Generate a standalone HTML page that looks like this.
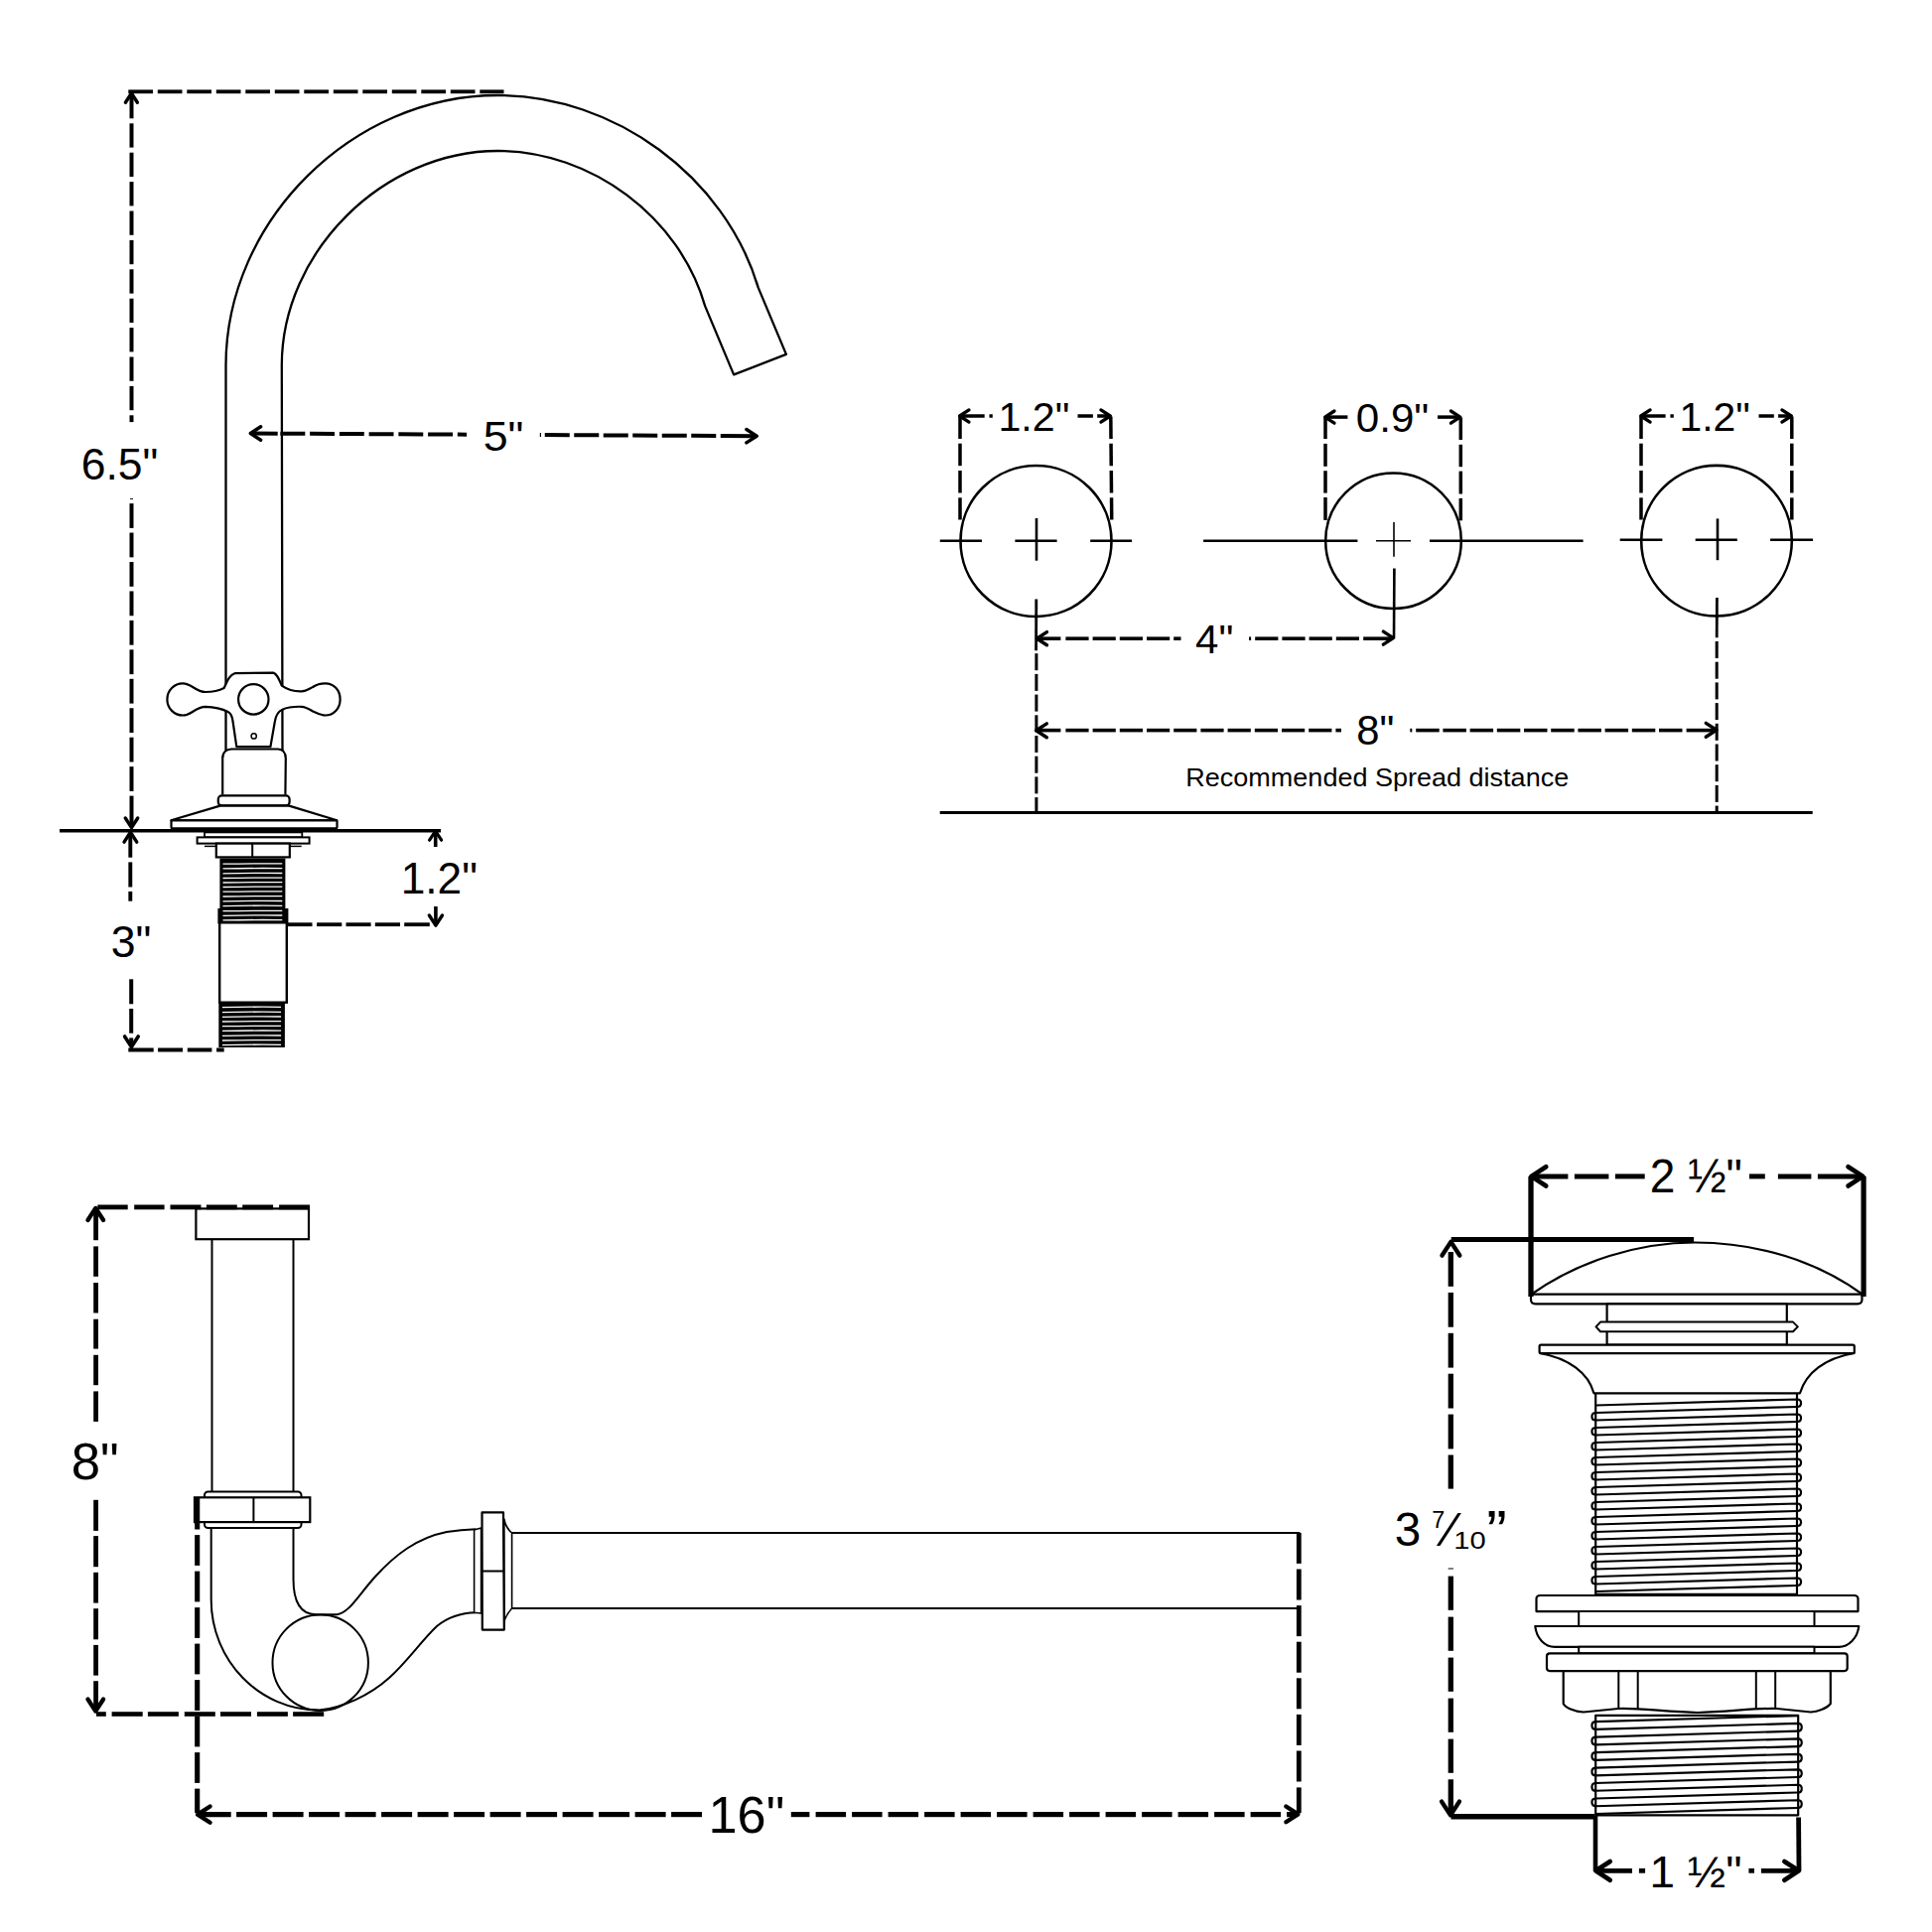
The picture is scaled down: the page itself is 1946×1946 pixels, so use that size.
<!DOCTYPE html>
<html><head><meta charset="utf-8"><style>
html,body{margin:0;padding:0;background:#fff;}
svg{display:block;}
text{font-family:"Liberation Sans",sans-serif;}
</style></head><body>
<svg xmlns="http://www.w3.org/2000/svg" width="1946" height="1946" viewBox="0 0 1946 1946">
<rect width="1946" height="1946" fill="#fff"/>
<g stroke="#000" fill="none" stroke-linejoin="round">
<path d="M227.5 757L227.5 368C227.5 222.48 354.91 96 501.5 96C618.5 96 730.2 177.5 763.7 289.6L791.9 356.9L739.1 377.4L710.2 308.4C684.4 218.3 595.2 152 501.5 152C386.12 152 283.8 253.52 283.8 368L284.5 757" stroke-width="2.3" fill="none" />
</g>
<path d="M225.7 693 C229 686 231 680 236.5 678.2 L275.3 677.6 C279 678.5 281 684 283.8 690.7 C290 695 297 696.6 303.7 696.4 C309 696 311 694 315.1 692 C320 688.5 324 688.3 327.6 688.3 C336 688.3 342.6 695 342.6 704.4 C342.6 713.8 336 720.5 327.6 720.5 C323 720.5 319 718 315.1 716.5 C311 714 308 712 303.7 711.8 C296 711.6 289 712.5 284.4 714.7 C279 717 277.5 722 276.8 727 L272.4 752.2 L238.3 752.2 L234.6 727 C233.8 721 232 718 229.7 717 C225 714.5 218 712 206.9 711.8 C201 712 197 715 193.5 717.2 C190 719.5 187 720.5 184.2 720.5 C175.5 720.5 168.4 713.5 168.4 704.4 C168.4 695.3 175.5 688.3 184.2 688.3 C188 688.3 191 690 194.5 692.2 C198 694.5 202 697 206.9 697 C214 697 221 695.5 225.7 693 Z" stroke-width="2.2" fill="#fff" stroke="#000" stroke-linejoin="round"/>
<g stroke="#000" fill="none">
<circle cx="255.3" cy="704.4" r="15.2" stroke-width="2.2" fill="none"/>
<circle cx="255.7" cy="741.4" r="2.6" stroke-width="1.5" fill="none"/>
</g>
<path d="M224.2 800.6 L224.2 764 C224.2 758 228 754.8 233 754.5 L280 754.5 C285 754.8 287.8 758 287.8 764 L287.4 800.6" stroke-width="2.2" fill="#fff" stroke="#000"/>
<line x1="238" y1="753.6" x2="272.5" y2="753.6" stroke-width="3.2" stroke-linecap="butt"/>
<g stroke="#000" fill="#fff">
<rect x="219.8" y="801.4" width="71.8" height="10" rx="3.5" stroke-width="2.2" fill="#fff"/>
</g>
<path d="M221.7 811.6 L291.2 811.6 L339.3 826.3 L172.3 826.3 Z" stroke-width="2.2" fill="#fff" stroke="#000" stroke-linejoin="round"/>
<g stroke="#000" fill="#fff">
<rect x="172.5" y="826.3" width="167" height="8" rx="1" stroke-width="2.2" fill="#fff"/>
</g>
<line x1="184" y1="824.6" x2="326.5" y2="824.6" stroke-width="1.5" stroke-linecap="butt"/>
<g stroke="#000">
<line x1="60" y1="836.8" x2="444" y2="836.8" stroke-width="3.6" stroke-linecap="butt"/>
</g>
<g stroke="#000" fill="#fff">
<rect x="206" y="838.4" width="98.3" height="4.9" stroke-width="1.8" fill="#fff"/>
<rect x="198.6" y="843.4" width="113" height="6.2" stroke-width="2" fill="#fff"/>
<rect x="217.8" y="849.6" width="74" height="13.8" stroke-width="2.2" fill="#fff"/>
</g>
<g stroke="#000">
<line x1="254.2" y1="849.6" x2="254.2" y2="863.4" stroke-width="2" stroke-linecap="butt"/>
<line x1="206" y1="852.4" x2="217.8" y2="852.4" stroke-width="1.5" stroke-linecap="butt"/>
<line x1="291.8" y1="852.4" x2="303.7" y2="852.4" stroke-width="1.5" stroke-linecap="butt"/>
</g>
<g stroke="#000" fill="#fff">
<rect x="221.2" y="928.7" width="67.6" height="81" stroke-width="2.4" fill="#fff"/>
</g>
<rect x="221.4" y="864.5" width="66" height="65" fill="#000"/>
<rect x="219.4" y="915" width="71" height="15.5" fill="#000"/>
<rect x="220.3" y="1009" width="66.6" height="46" fill="#000"/>
<g stroke="#fff" fill="none">
<path d="M224.5 870.2 Q255 869.6 284.3 869.9" stroke-width="1.3" fill="none" />
<path d="M224.5 874.9 Q255 874.3 284.3 874.6" stroke-width="1.3" fill="none" />
<path d="M224.5 879.8 Q255 879.2 284.3 879.5" stroke-width="1.3" fill="none" />
<path d="M224.5 884.5 Q255 883.9 284.3 884.2" stroke-width="1.3" fill="none" />
<path d="M224.5 889 Q255 888.4 284.3 888.7" stroke-width="1.3" fill="none" />
<path d="M224.5 893.5 Q255 892.9 284.3 893.2" stroke-width="1.3" fill="none" />
<path d="M224.5 898.2 Q255 897.6 284.3 897.9" stroke-width="1.3" fill="none" />
<path d="M224.5 903 Q255 902.4 284.3 902.7" stroke-width="1.3" fill="none" />
<path d="M224.5 907.8 Q255 907.2 284.3 907.5" stroke-width="1.3" fill="none" />
<path d="M224.5 912.6 Q255 912 284.3 912.3" stroke-width="1.3" fill="none" />
<path d="M224.5 917.7 Q255 917.1 284.3 917.4" stroke-width="1.3" fill="none" />
<path d="M224.5 922.3 Q255 921.7 284.3 922" stroke-width="1.3" fill="none" />
<path d="M224.5 926.9 Q255 926.3 284.3 926.6" stroke-width="1.3" fill="none" />
<path d="M223.9 1014.6 Q255 1014 283.1 1014.3" stroke-width="1.3" fill="none" />
<path d="M223.9 1019.6 Q255 1019 283.1 1019.3" stroke-width="1.3" fill="none" />
<path d="M223.9 1024.3 Q255 1023.7 283.1 1024" stroke-width="1.3" fill="none" />
<path d="M223.9 1029 Q255 1028.4 283.1 1028.7" stroke-width="1.3" fill="none" />
<path d="M223.9 1033.7 Q255 1033.1 283.1 1033.4" stroke-width="1.3" fill="none" />
<path d="M223.9 1038.4 Q255 1037.8 283.1 1038.1" stroke-width="1.3" fill="none" />
<path d="M223.9 1043.3 Q255 1042.7 283.1 1043" stroke-width="1.3" fill="none" />
<path d="M223.9 1048 Q255 1047.4 283.1 1047.7" stroke-width="1.3" fill="none" />
<path d="M223.9 1052.6 Q255 1052 283.1 1052.3" stroke-width="1.3" fill="none" />
</g>
<g stroke="#000" fill="none">
<line x1="129.3" y1="92.3" x2="154" y2="92.3" stroke-width="3.8" stroke-linecap="butt"/>
<line x1="158.8" y1="92.3" x2="183.5" y2="92.3" stroke-width="3.8" stroke-linecap="butt"/>
<line x1="188.3" y1="92.3" x2="213" y2="92.3" stroke-width="3.8" stroke-linecap="butt"/>
<line x1="217.8" y1="92.3" x2="242.5" y2="92.3" stroke-width="3.8" stroke-linecap="butt"/>
<line x1="247.3" y1="92.3" x2="272" y2="92.3" stroke-width="3.8" stroke-linecap="butt"/>
<line x1="276.8" y1="92.3" x2="301.5" y2="92.3" stroke-width="3.8" stroke-linecap="butt"/>
<line x1="306.3" y1="92.3" x2="331" y2="92.3" stroke-width="3.8" stroke-linecap="butt"/>
<line x1="335.8" y1="92.3" x2="360.5" y2="92.3" stroke-width="3.8" stroke-linecap="butt"/>
<line x1="365.3" y1="92.3" x2="390" y2="92.3" stroke-width="3.8" stroke-linecap="butt"/>
<line x1="394.8" y1="92.3" x2="419.5" y2="92.3" stroke-width="3.8" stroke-linecap="butt"/>
<line x1="424.3" y1="92.3" x2="449" y2="92.3" stroke-width="3.8" stroke-linecap="butt"/>
<line x1="453.8" y1="92.3" x2="478.5" y2="92.3" stroke-width="3.8" stroke-linecap="butt"/>
<line x1="483.3" y1="92.3" x2="507.5" y2="92.3" stroke-width="3.8" stroke-linecap="butt"/>
<line x1="132.5" y1="94.5" x2="132.5" y2="119.3" stroke-width="4" stroke-linecap="butt"/>
<line x1="132.5" y1="124.3" x2="132.5" y2="148.6" stroke-width="4" stroke-linecap="butt"/>
<line x1="132.5" y1="153.7" x2="132.5" y2="178" stroke-width="4" stroke-linecap="butt"/>
<line x1="132.5" y1="183.1" x2="132.5" y2="207.4" stroke-width="4" stroke-linecap="butt"/>
<line x1="132.5" y1="212.5" x2="132.5" y2="236.8" stroke-width="4" stroke-linecap="butt"/>
<line x1="132.5" y1="241.9" x2="132.5" y2="266.2" stroke-width="4" stroke-linecap="butt"/>
<line x1="132.5" y1="271.3" x2="132.5" y2="295.6" stroke-width="4" stroke-linecap="butt"/>
<line x1="132.5" y1="300.7" x2="132.5" y2="325" stroke-width="4" stroke-linecap="butt"/>
<line x1="132.5" y1="330.1" x2="132.5" y2="354.4" stroke-width="4" stroke-linecap="butt"/>
<line x1="132.5" y1="359.5" x2="132.5" y2="383.8" stroke-width="4" stroke-linecap="butt"/>
<line x1="132.5" y1="388.9" x2="132.5" y2="413.2" stroke-width="4" stroke-linecap="butt"/>
<line x1="132.5" y1="418.3" x2="132.5" y2="425.1" stroke-width="4" stroke-linecap="butt"/>
<line x1="132.5" y1="502" x2="132.5" y2="502.9" stroke-width="3" stroke-linecap="butt"/>
<line x1="132.5" y1="507.1" x2="132.5" y2="531.9" stroke-width="4" stroke-linecap="butt"/>
<line x1="132.5" y1="536.55" x2="132.5" y2="561.35" stroke-width="4" stroke-linecap="butt"/>
<line x1="132.5" y1="566" x2="132.5" y2="590.8" stroke-width="4" stroke-linecap="butt"/>
<line x1="132.5" y1="595.45" x2="132.5" y2="620.25" stroke-width="4" stroke-linecap="butt"/>
<line x1="132.5" y1="624.9" x2="132.5" y2="649.7" stroke-width="4" stroke-linecap="butt"/>
<line x1="132.5" y1="654.35" x2="132.5" y2="679.15" stroke-width="4" stroke-linecap="butt"/>
<line x1="132.5" y1="683.8" x2="132.5" y2="708.6" stroke-width="4" stroke-linecap="butt"/>
<line x1="132.5" y1="713.25" x2="132.5" y2="738.05" stroke-width="4" stroke-linecap="butt"/>
<line x1="132.5" y1="742.7" x2="132.5" y2="767.5" stroke-width="4" stroke-linecap="butt"/>
<line x1="132.5" y1="772.15" x2="132.5" y2="796.95" stroke-width="4" stroke-linecap="butt"/>
<line x1="132.5" y1="801.6" x2="132.5" y2="833" stroke-width="4" stroke-linecap="butt"/>
<path d="M126.41 103.23L132.4 94L138.39 103.23" stroke-width="3.4" fill="none" stroke-linecap="round" stroke-linejoin="round"/>
<path d="M138.71 824.04L132.5 833.6L126.29 824.04" stroke-width="3.4" fill="none" stroke-linecap="round" stroke-linejoin="round"/>
<line x1="254" y1="436.51" x2="279.7" y2="436.65" stroke-width="4" stroke-linecap="butt"/>
<line x1="282.4" y1="436.66" x2="307.3" y2="436.79" stroke-width="4" stroke-linecap="butt"/>
<line x1="312.14" y1="436.82" x2="337.04" y2="436.95" stroke-width="4" stroke-linecap="butt"/>
<line x1="341.88" y1="436.98" x2="366.78" y2="437.11" stroke-width="4" stroke-linecap="butt"/>
<line x1="371.62" y1="437.13" x2="396.52" y2="437.26" stroke-width="4" stroke-linecap="butt"/>
<line x1="401.36" y1="437.29" x2="426.26" y2="437.42" stroke-width="4" stroke-linecap="butt"/>
<line x1="431.1" y1="437.45" x2="456" y2="437.58" stroke-width="4" stroke-linecap="butt"/>
<line x1="460.84" y1="437.61" x2="470.1" y2="437.65" stroke-width="4" stroke-linecap="butt"/>
<line x1="543.8" y1="438.04" x2="545" y2="438.05" stroke-width="4" stroke-linecap="butt"/>
<line x1="548.75" y1="438.07" x2="573.75" y2="438.2" stroke-width="4" stroke-linecap="butt"/>
<line x1="578.25" y1="438.23" x2="603.25" y2="438.36" stroke-width="4" stroke-linecap="butt"/>
<line x1="607.75" y1="438.38" x2="632.75" y2="438.52" stroke-width="4" stroke-linecap="butt"/>
<line x1="637.25" y1="438.54" x2="662.25" y2="438.67" stroke-width="4" stroke-linecap="butt"/>
<line x1="666.75" y1="438.7" x2="691.75" y2="438.83" stroke-width="4" stroke-linecap="butt"/>
<line x1="696.25" y1="438.85" x2="721.25" y2="438.98" stroke-width="4" stroke-linecap="butt"/>
<line x1="725.75" y1="439.01" x2="760.5" y2="439.19" stroke-width="4" stroke-linecap="butt"/>
<path d="M262.62 443.2L252.3 436.5L262.62 429.8" stroke-width="3.4" fill="none" stroke-linecap="round" stroke-linejoin="round"/>
<path d="M751.88 432.5L762.2 439.2L751.88 445.9" stroke-width="3.4" fill="none" stroke-linecap="round" stroke-linejoin="round"/>
<line x1="131.3" y1="839.5" x2="131.3" y2="863.7" stroke-width="3.9" stroke-linecap="butt"/>
<line x1="131.3" y1="868.4" x2="131.3" y2="893.5" stroke-width="3.9" stroke-linecap="butt"/>
<line x1="131.3" y1="897.9" x2="131.3" y2="907.7" stroke-width="3.9" stroke-linecap="butt"/>
<line x1="132.2" y1="986.3" x2="132.2" y2="1011.3" stroke-width="4" stroke-linecap="butt"/>
<line x1="132.2" y1="1016" x2="132.2" y2="1040.7" stroke-width="4" stroke-linecap="butt"/>
<line x1="132.2" y1="1045.4" x2="132.2" y2="1053.5" stroke-width="4" stroke-linecap="butt"/>
<path d="M125.03 848.11L131.4 838.3L137.77 848.11" stroke-width="3.4" fill="none" stroke-linecap="round" stroke-linejoin="round"/>
<path d="M139.21 1043.92L132.4 1054.4L125.59 1043.92" stroke-width="3.6" fill="none" stroke-linecap="round" stroke-linejoin="round"/>
<line x1="129.3" y1="1057.5" x2="154.7" y2="1057.5" stroke-width="4" stroke-linecap="butt"/>
<line x1="159.1" y1="1057.5" x2="184.1" y2="1057.5" stroke-width="4" stroke-linecap="butt"/>
<line x1="188.8" y1="1057.5" x2="213.4" y2="1057.5" stroke-width="4" stroke-linecap="butt"/>
<line x1="218.1" y1="1057.5" x2="225.7" y2="1057.5" stroke-width="4" stroke-linecap="butt"/>
<line x1="438.7" y1="838" x2="438.7" y2="853" stroke-width="3.6" stroke-linecap="butt"/>
<line x1="438.9" y1="913" x2="438.9" y2="931" stroke-width="3.6" stroke-linecap="butt"/>
<path d="M432.61 846.23L438.6 837L444.59 846.23" stroke-width="3.2" fill="none" stroke-linecap="round" stroke-linejoin="round"/>
<path d="M445.44 922.04L438.9 932.1L432.36 922.04" stroke-width="3.4" fill="none" stroke-linecap="round" stroke-linejoin="round"/>
<line x1="289.3" y1="931.2" x2="314.5" y2="931.2" stroke-width="3.8" stroke-linecap="butt"/>
<line x1="319.1" y1="931.2" x2="344.3" y2="931.2" stroke-width="3.8" stroke-linecap="butt"/>
<line x1="348.5" y1="931.2" x2="373.6" y2="931.2" stroke-width="3.8" stroke-linecap="butt"/>
<line x1="377.8" y1="931.2" x2="403" y2="931.2" stroke-width="3.8" stroke-linecap="butt"/>
<line x1="407.2" y1="931.2" x2="432.8" y2="931.2" stroke-width="3.8" stroke-linecap="butt"/>
</g>
<g stroke="#000" fill="none">
<circle cx="1043.5" cy="545" r="76" stroke-width="2.6" fill="none"/>
<circle cx="1403.5" cy="544.7" r="68.3" stroke-width="2.5" fill="none"/>
<circle cx="1729" cy="544.7" r="75.8" stroke-width="2.6" fill="none"/>
<line x1="946.8" y1="544.7" x2="989" y2="544.7" stroke-width="2.6" stroke-linecap="butt"/>
<line x1="1022.4" y1="544.7" x2="1064.6" y2="544.7" stroke-width="2.6" stroke-linecap="butt"/>
<line x1="1098.2" y1="544.7" x2="1140.1" y2="544.7" stroke-width="2.6" stroke-linecap="butt"/>
<line x1="1212.1" y1="544.7" x2="1367.4" y2="544.7" stroke-width="2.6" stroke-linecap="butt"/>
<line x1="1440" y1="544.7" x2="1594.6" y2="544.7" stroke-width="2.6" stroke-linecap="butt"/>
<line x1="1631.7" y1="543.7" x2="1674.4" y2="543.7" stroke-width="2.6" stroke-linecap="butt"/>
<line x1="1707.7" y1="543.7" x2="1749.8" y2="543.7" stroke-width="2.6" stroke-linecap="butt"/>
<line x1="1783.1" y1="543.7" x2="1826.1" y2="543.7" stroke-width="2.6" stroke-linecap="butt"/>
<line x1="1386" y1="544.7" x2="1421" y2="544.7" stroke-width="1.6" stroke-linecap="butt"/>
<line x1="1044" y1="522" x2="1044" y2="564.7" stroke-width="2.6" stroke-linecap="butt"/>
<line x1="1404" y1="526" x2="1404" y2="560.8" stroke-width="1.6" stroke-linecap="butt"/>
<line x1="1730" y1="522.4" x2="1730" y2="564.2" stroke-width="2.6" stroke-linecap="butt"/>
<line x1="1043.8" y1="603.5" x2="1043.6" y2="655.2" stroke-width="2.8" stroke-linecap="butt"/>
<line x1="1043.9" y1="658.2" x2="1043.9" y2="675.2" stroke-width="3" stroke-linecap="butt"/>
<line x1="1043.9" y1="678.9" x2="1043.9" y2="695.9" stroke-width="3" stroke-linecap="butt"/>
<line x1="1043.9" y1="699.6" x2="1043.9" y2="716.6" stroke-width="3" stroke-linecap="butt"/>
<line x1="1043.9" y1="720.3" x2="1043.9" y2="737.3" stroke-width="3" stroke-linecap="butt"/>
<line x1="1043.9" y1="741" x2="1043.9" y2="758" stroke-width="3" stroke-linecap="butt"/>
<line x1="1043.9" y1="761.7" x2="1043.9" y2="778.7" stroke-width="3" stroke-linecap="butt"/>
<line x1="1043.9" y1="782.4" x2="1043.9" y2="799.4" stroke-width="3" stroke-linecap="butt"/>
<line x1="1043.9" y1="803.1" x2="1043.9" y2="818" stroke-width="3" stroke-linecap="butt"/>
<line x1="1404.4" y1="572.5" x2="1404" y2="643" stroke-width="2.6" stroke-linecap="butt"/>
<line x1="1729.4" y1="602" x2="1729.2" y2="642.3" stroke-width="2.8" stroke-linecap="butt"/>
<line x1="1729.2" y1="646" x2="1729.2" y2="663" stroke-width="3" stroke-linecap="butt"/>
<line x1="1729.2" y1="666.7" x2="1729.2" y2="683.7" stroke-width="3" stroke-linecap="butt"/>
<line x1="1729.2" y1="687.4" x2="1729.2" y2="704.4" stroke-width="3" stroke-linecap="butt"/>
<line x1="1729.2" y1="708.1" x2="1729.2" y2="725.1" stroke-width="3" stroke-linecap="butt"/>
<line x1="1729.2" y1="728.8" x2="1729.2" y2="745.8" stroke-width="3" stroke-linecap="butt"/>
<line x1="1729.2" y1="749.5" x2="1729.2" y2="766.5" stroke-width="3" stroke-linecap="butt"/>
<line x1="1729.2" y1="770.2" x2="1729.2" y2="787.2" stroke-width="3" stroke-linecap="butt"/>
<line x1="1729.2" y1="790.9" x2="1729.2" y2="807.9" stroke-width="3" stroke-linecap="butt"/>
<line x1="1729.2" y1="811.6" x2="1729.2" y2="818" stroke-width="3" stroke-linecap="butt"/>
<line x1="946.7" y1="818.5" x2="1825.7" y2="818.5" stroke-width="3" stroke-linecap="butt"/>
<line x1="1045" y1="643.2" x2="1068.4" y2="643.2" stroke-width="3.6" stroke-linecap="butt"/>
<line x1="1073.4" y1="643.2" x2="1096.6" y2="643.2" stroke-width="3.6" stroke-linecap="butt"/>
<line x1="1100.6" y1="643.2" x2="1123.8" y2="643.2" stroke-width="3.6" stroke-linecap="butt"/>
<line x1="1127.8" y1="643.2" x2="1151" y2="643.2" stroke-width="3.6" stroke-linecap="butt"/>
<line x1="1155" y1="643.2" x2="1178.2" y2="643.2" stroke-width="3.6" stroke-linecap="butt"/>
<line x1="1182.2" y1="643.2" x2="1189.5" y2="643.2" stroke-width="3.6" stroke-linecap="butt"/>
<line x1="1258.1" y1="643.2" x2="1260.1" y2="643.2" stroke-width="3.6" stroke-linecap="butt"/>
<line x1="1264.2" y1="643.2" x2="1287.4" y2="643.2" stroke-width="3.6" stroke-linecap="butt"/>
<line x1="1291.4" y1="643.2" x2="1314.6" y2="643.2" stroke-width="3.6" stroke-linecap="butt"/>
<line x1="1318.6" y1="643.2" x2="1341.8" y2="643.2" stroke-width="3.6" stroke-linecap="butt"/>
<line x1="1345.8" y1="643.2" x2="1369" y2="643.2" stroke-width="3.6" stroke-linecap="butt"/>
<line x1="1373.2" y1="643.2" x2="1402.5" y2="643.2" stroke-width="3.6" stroke-linecap="butt"/>
<path d="M1054.46 649.74L1044.4 643.2L1054.46 636.66" stroke-width="3.4" fill="none" stroke-linecap="round" stroke-linejoin="round"/>
<path d="M1393.34 636.06L1403.4 642.6L1393.34 649.14" stroke-width="3.4" fill="none" stroke-linecap="round" stroke-linejoin="round"/>
<line x1="1045" y1="735.6" x2="1068.4" y2="735.6" stroke-width="3.6" stroke-linecap="butt"/>
<line x1="1073.4" y1="735.6" x2="1096.6" y2="735.6" stroke-width="3.6" stroke-linecap="butt"/>
<line x1="1100.6" y1="735.6" x2="1123.8" y2="735.6" stroke-width="3.6" stroke-linecap="butt"/>
<line x1="1127.8" y1="735.6" x2="1151" y2="735.6" stroke-width="3.6" stroke-linecap="butt"/>
<line x1="1155" y1="735.6" x2="1178.2" y2="735.6" stroke-width="3.6" stroke-linecap="butt"/>
<line x1="1182.2" y1="735.6" x2="1205.4" y2="735.6" stroke-width="3.6" stroke-linecap="butt"/>
<line x1="1209.4" y1="735.6" x2="1232.6" y2="735.6" stroke-width="3.6" stroke-linecap="butt"/>
<line x1="1236.6" y1="735.6" x2="1259.8" y2="735.6" stroke-width="3.6" stroke-linecap="butt"/>
<line x1="1263.8" y1="735.6" x2="1287" y2="735.6" stroke-width="3.6" stroke-linecap="butt"/>
<line x1="1291" y1="735.6" x2="1314.2" y2="735.6" stroke-width="3.6" stroke-linecap="butt"/>
<line x1="1318.2" y1="735.6" x2="1341.4" y2="735.6" stroke-width="3.6" stroke-linecap="butt"/>
<line x1="1345.4" y1="735.6" x2="1351" y2="735.6" stroke-width="3.6" stroke-linecap="butt"/>
<line x1="1420.3" y1="735.6" x2="1422.3" y2="735.6" stroke-width="3.6" stroke-linecap="butt"/>
<line x1="1426.2" y1="735.6" x2="1449.7" y2="735.6" stroke-width="3.6" stroke-linecap="butt"/>
<line x1="1453.4" y1="735.6" x2="1476.9" y2="735.6" stroke-width="3.6" stroke-linecap="butt"/>
<line x1="1480.6" y1="735.6" x2="1504.1" y2="735.6" stroke-width="3.6" stroke-linecap="butt"/>
<line x1="1507.8" y1="735.6" x2="1531.3" y2="735.6" stroke-width="3.6" stroke-linecap="butt"/>
<line x1="1535" y1="735.6" x2="1558.5" y2="735.6" stroke-width="3.6" stroke-linecap="butt"/>
<line x1="1562.2" y1="735.6" x2="1585.7" y2="735.6" stroke-width="3.6" stroke-linecap="butt"/>
<line x1="1589.4" y1="735.6" x2="1612.9" y2="735.6" stroke-width="3.6" stroke-linecap="butt"/>
<line x1="1616.6" y1="735.6" x2="1640.1" y2="735.6" stroke-width="3.6" stroke-linecap="butt"/>
<line x1="1643.8" y1="735.6" x2="1667.3" y2="735.6" stroke-width="3.6" stroke-linecap="butt"/>
<line x1="1671" y1="735.6" x2="1694.5" y2="735.6" stroke-width="3.6" stroke-linecap="butt"/>
<line x1="1698.6" y1="735.6" x2="1728" y2="735.6" stroke-width="3.6" stroke-linecap="butt"/>
<path d="M1054.33 742.77L1043.6 735.8L1054.33 728.83" stroke-width="3.4" fill="none" stroke-linecap="round" stroke-linejoin="round"/>
<path d="M1718.27 728.33L1729 735.3L1718.27 742.27" stroke-width="3.4" fill="none" stroke-linecap="round" stroke-linejoin="round"/>
<line x1="967" y1="419.5" x2="967" y2="442" stroke-width="3.5" stroke-linecap="butt"/>
<line x1="967" y1="446.7" x2="967" y2="469.2" stroke-width="3.5" stroke-linecap="butt"/>
<line x1="967" y1="474" x2="967" y2="496.5" stroke-width="3.5" stroke-linecap="butt"/>
<line x1="967" y1="501.3" x2="967" y2="523.5" stroke-width="3.5" stroke-linecap="butt"/>
<line x1="1118.8" y1="419.5" x2="1119.01" y2="442" stroke-width="3.5" stroke-linecap="butt"/>
<line x1="1119.05" y1="446.7" x2="1119.25" y2="469.2" stroke-width="3.5" stroke-linecap="butt"/>
<line x1="1119.29" y1="474" x2="1119.5" y2="496.5" stroke-width="3.5" stroke-linecap="butt"/>
<line x1="1119.54" y1="501.3" x2="1119.74" y2="523.5" stroke-width="3.5" stroke-linecap="butt"/>
<line x1="968" y1="419" x2="991.7" y2="419" stroke-width="3.5" stroke-linecap="butt"/>
<line x1="996.5" y1="419" x2="999.8" y2="419" stroke-width="3.5" stroke-linecap="butt"/>
<line x1="1085.5" y1="419" x2="1100.9" y2="419" stroke-width="3.5" stroke-linecap="butt"/>
<line x1="1105.2" y1="419" x2="1117" y2="419" stroke-width="3.5" stroke-linecap="butt"/>
<path d="M975.99 425.1L966.6 419L975.99 412.9" stroke-width="3.3" fill="none" stroke-linecap="round" stroke-linejoin="round"/>
<path d="M1108.91 412.9L1118.3 419L1108.91 425.1" stroke-width="3.3" fill="none" stroke-linecap="round" stroke-linejoin="round"/>
<line x1="1335" y1="420.5" x2="1335" y2="442.1" stroke-width="3.5" stroke-linecap="butt"/>
<line x1="1335" y1="446.9" x2="1335" y2="469.8" stroke-width="3.5" stroke-linecap="butt"/>
<line x1="1335" y1="474.2" x2="1335" y2="496.6" stroke-width="3.5" stroke-linecap="butt"/>
<line x1="1335" y1="501" x2="1335" y2="523.9" stroke-width="3.5" stroke-linecap="butt"/>
<line x1="1471.3" y1="420.5" x2="1471.3" y2="443" stroke-width="3.5" stroke-linecap="butt"/>
<line x1="1471.3" y1="447.8" x2="1471.3" y2="470.2" stroke-width="3.5" stroke-linecap="butt"/>
<line x1="1471.3" y1="474.6" x2="1471.3" y2="497.5" stroke-width="3.5" stroke-linecap="butt"/>
<line x1="1471.3" y1="501.9" x2="1471.3" y2="524.3" stroke-width="3.5" stroke-linecap="butt"/>
<line x1="1336" y1="420.1" x2="1357.4" y2="420.1" stroke-width="3.5" stroke-linecap="butt"/>
<line x1="1448" y1="420.1" x2="1470" y2="420.1" stroke-width="3.5" stroke-linecap="butt"/>
<path d="M1343.99 426.2L1334.6 420.1L1343.99 414" stroke-width="3.3" fill="none" stroke-linecap="round" stroke-linejoin="round"/>
<path d="M1461.41 414L1470.8 420.1L1461.41 426.2" stroke-width="3.3" fill="none" stroke-linecap="round" stroke-linejoin="round"/>
<line x1="1653" y1="419.5" x2="1653" y2="442" stroke-width="3.5" stroke-linecap="butt"/>
<line x1="1653" y1="446.7" x2="1653" y2="469.2" stroke-width="3.5" stroke-linecap="butt"/>
<line x1="1653" y1="474" x2="1653" y2="496.5" stroke-width="3.5" stroke-linecap="butt"/>
<line x1="1653" y1="501.3" x2="1653" y2="523.5" stroke-width="3.5" stroke-linecap="butt"/>
<line x1="1804.8" y1="419.5" x2="1804.8" y2="442" stroke-width="3.5" stroke-linecap="butt"/>
<line x1="1804.8" y1="446.7" x2="1804.8" y2="469.2" stroke-width="3.5" stroke-linecap="butt"/>
<line x1="1804.8" y1="474" x2="1804.8" y2="496.5" stroke-width="3.5" stroke-linecap="butt"/>
<line x1="1804.8" y1="501.3" x2="1804.8" y2="523.5" stroke-width="3.5" stroke-linecap="butt"/>
<line x1="1654" y1="419" x2="1677.6" y2="419" stroke-width="3.5" stroke-linecap="butt"/>
<line x1="1682.4" y1="419" x2="1685.8" y2="419" stroke-width="3.5" stroke-linecap="butt"/>
<line x1="1771.5" y1="419" x2="1786.8" y2="419" stroke-width="3.5" stroke-linecap="butt"/>
<line x1="1791.1" y1="419" x2="1803.5" y2="419" stroke-width="3.5" stroke-linecap="butt"/>
<path d="M1662.09 425.1L1652.7 419L1662.09 412.9" stroke-width="3.3" fill="none" stroke-linecap="round" stroke-linejoin="round"/>
<path d="M1794.91 412.9L1804.3 419L1794.91 425.1" stroke-width="3.3" fill="none" stroke-linecap="round" stroke-linejoin="round"/>
</g>
<g stroke="#000" fill="none" stroke-linejoin="round">
<line x1="213.5" y1="1248" x2="213.5" y2="1504" stroke-width="2" stroke-linecap="butt"/>
<line x1="295.5" y1="1248" x2="295.5" y2="1504" stroke-width="2" stroke-linecap="butt"/>
</g>
<g stroke="#000" fill="#fff">
<rect x="197.4" y="1217.4" width="113.6" height="30.8" stroke-width="2.2" fill="#fff"/>
<rect x="206" y="1502.5" width="97.5" height="8" rx="3.5" stroke-width="2" fill="#fff"/>
<rect x="206" y="1531" width="97.5" height="8" rx="3.5" stroke-width="2" fill="#fff"/>
<rect x="196" y="1508.3" width="116.3" height="24.8" stroke-width="2.2" fill="#fff"/>
</g>
<g stroke="#000" fill="none" stroke-linejoin="round">
<line x1="255.4" y1="1508.3" x2="255.4" y2="1533" stroke-width="2" stroke-linecap="butt"/>
<path d="M212.7 1539 L212.7 1611.3 C212.7 1672.8 261.4 1722.6 321.4 1722.6" stroke-width="2" fill="none" />
<path d="M295.5 1539 L295.5 1590.6 C295.5 1612 302 1626 318 1626.3 L339.5 1626.3 C352 1624 360 1608 378 1588 C398 1566 420 1549 450 1543 C462 1541 472 1540.4 479.3 1540.2" stroke-width="2" fill="none" />
<path d="M321.4 1722.6 C345 1720 372 1708 392 1690 C410 1674 425 1652 440 1638 C452 1628 465 1624.5 479.3 1624.2" stroke-width="2" fill="none" />
<circle cx="322.7" cy="1674.7" r="48.2" stroke-width="2" fill="none"/>
</g>
<g stroke="#000" fill="#fff" stroke-linejoin="round">
<path d="M477.6 1541 L484.6 1539 L484.6 1625 L477.6 1624.2 Z" stroke-width="1.6" fill="#fff" />
<path d="M507.8 1530 C509 1537 512 1541 515.6 1544 L515.6 1620 C512 1624 509 1628 507.8 1634 Z" stroke-width="1.6" fill="#fff" />
<path d="M485.5 1523.4 L507 1523.4 L507.8 1641.6 L485.8 1641.6 Z" stroke-width="2.2" fill="#fff" />
</g>
<g stroke="#000" fill="none">
<line x1="485.5" y1="1582.5" x2="507.5" y2="1582.5" stroke-width="2" stroke-linecap="butt"/>
<line x1="515.6" y1="1544" x2="1309.3" y2="1544" stroke-width="2" stroke-linecap="butt"/>
<line x1="515.6" y1="1620" x2="1309.3" y2="1620" stroke-width="2" stroke-linecap="butt"/>
<line x1="98.3" y1="1215.9" x2="128.7" y2="1215.9" stroke-width="4.8" stroke-linecap="butt"/>
<line x1="135.2" y1="1215.9" x2="165.6" y2="1215.9" stroke-width="4.8" stroke-linecap="butt"/>
<line x1="171.5" y1="1215.9" x2="202.5" y2="1215.9" stroke-width="4.8" stroke-linecap="butt"/>
<line x1="207.9" y1="1215.9" x2="238.8" y2="1215.9" stroke-width="4.8" stroke-linecap="butt"/>
<line x1="244.2" y1="1215.9" x2="275.1" y2="1215.9" stroke-width="4.8" stroke-linecap="butt"/>
<line x1="281.1" y1="1215.9" x2="312" y2="1215.9" stroke-width="4.8" stroke-linecap="butt"/>
<line x1="96.6" y1="1218" x2="96.6" y2="1249.2" stroke-width="4.8" stroke-linecap="butt"/>
<line x1="96.6" y1="1255.4" x2="96.6" y2="1285.8" stroke-width="4.8" stroke-linecap="butt"/>
<line x1="96.6" y1="1292" x2="96.6" y2="1322.5" stroke-width="4.8" stroke-linecap="butt"/>
<line x1="96.6" y1="1328.7" x2="96.6" y2="1358.6" stroke-width="4.8" stroke-linecap="butt"/>
<line x1="96.6" y1="1364.8" x2="96.6" y2="1395.2" stroke-width="4.8" stroke-linecap="butt"/>
<line x1="96.6" y1="1401.4" x2="96.6" y2="1431.9" stroke-width="4.8" stroke-linecap="butt"/>
<line x1="96.6" y1="1510.8" x2="96.6" y2="1541.9" stroke-width="4.8" stroke-linecap="butt"/>
<line x1="96.6" y1="1547.1" x2="96.6" y2="1578.2" stroke-width="4.8" stroke-linecap="butt"/>
<line x1="96.6" y1="1583.8" x2="96.6" y2="1614.6" stroke-width="4.8" stroke-linecap="butt"/>
<line x1="96.6" y1="1620.2" x2="96.6" y2="1651.3" stroke-width="4.8" stroke-linecap="butt"/>
<line x1="96.6" y1="1656.9" x2="96.6" y2="1687.6" stroke-width="4.8" stroke-linecap="butt"/>
<line x1="96.6" y1="1693.2" x2="96.6" y2="1722.5" stroke-width="4.8" stroke-linecap="butt"/>
<path d="M88.46 1228.98L96.3 1216.9L104.14 1228.98" stroke-width="4.3" fill="none" stroke-linecap="round" stroke-linejoin="round"/>
<path d="M104.14 1711.52L96.3 1723.6L88.46 1711.52" stroke-width="4.3" fill="none" stroke-linecap="round" stroke-linejoin="round"/>
<line x1="97" y1="1726.5" x2="106.8" y2="1726.5" stroke-width="4.6" stroke-linecap="butt"/>
<line x1="112.6" y1="1726.5" x2="143.7" y2="1726.5" stroke-width="4.6" stroke-linecap="butt"/>
<line x1="148.9" y1="1726.5" x2="179.9" y2="1726.5" stroke-width="4.6" stroke-linecap="butt"/>
<line x1="185.8" y1="1726.5" x2="216.8" y2="1726.5" stroke-width="4.6" stroke-linecap="butt"/>
<line x1="222" y1="1726.5" x2="253" y2="1726.5" stroke-width="4.6" stroke-linecap="butt"/>
<line x1="258.9" y1="1726.5" x2="289.9" y2="1726.5" stroke-width="4.6" stroke-linecap="butt"/>
<line x1="295.1" y1="1726.5" x2="326.2" y2="1726.5" stroke-width="4.6" stroke-linecap="butt"/>
<line x1="198.7" y1="1508.4" x2="198.7" y2="1540.5" stroke-width="5.1" stroke-linecap="butt"/>
<line x1="198.7" y1="1546.1" x2="198.7" y2="1576.9" stroke-width="5.1" stroke-linecap="butt"/>
<line x1="198.7" y1="1582.6" x2="198.7" y2="1613.4" stroke-width="5.1" stroke-linecap="butt"/>
<line x1="198.7" y1="1619.1" x2="198.7" y2="1649.9" stroke-width="5.1" stroke-linecap="butt"/>
<line x1="198.7" y1="1655.6" x2="198.7" y2="1686.4" stroke-width="5.1" stroke-linecap="butt"/>
<line x1="198.7" y1="1692.1" x2="198.7" y2="1722.9" stroke-width="5.1" stroke-linecap="butt"/>
<line x1="198.7" y1="1728.6" x2="198.7" y2="1759.4" stroke-width="5.1" stroke-linecap="butt"/>
<line x1="198.7" y1="1765.1" x2="198.7" y2="1795.9" stroke-width="5.1" stroke-linecap="butt"/>
<line x1="198.7" y1="1801.6" x2="198.7" y2="1826" stroke-width="5.1" stroke-linecap="butt"/>
<line x1="1308.3" y1="1543.9" x2="1308.3" y2="1574.9" stroke-width="4.8" stroke-linecap="butt"/>
<line x1="1308.3" y1="1580.5" x2="1308.3" y2="1611.5" stroke-width="4.8" stroke-linecap="butt"/>
<line x1="1308.3" y1="1617.1" x2="1308.3" y2="1648.1" stroke-width="4.8" stroke-linecap="butt"/>
<line x1="1308.3" y1="1653.7" x2="1308.3" y2="1684.7" stroke-width="4.8" stroke-linecap="butt"/>
<line x1="1308.3" y1="1690.3" x2="1308.3" y2="1721.3" stroke-width="4.8" stroke-linecap="butt"/>
<line x1="1308.3" y1="1726.9" x2="1308.3" y2="1757.9" stroke-width="4.8" stroke-linecap="butt"/>
<line x1="1308.3" y1="1763.5" x2="1308.3" y2="1794.5" stroke-width="4.8" stroke-linecap="butt"/>
<line x1="1308.3" y1="1800.4" x2="1308.3" y2="1826" stroke-width="4.8" stroke-linecap="butt"/>
<line x1="200" y1="1827.6" x2="232.7" y2="1827.6" stroke-width="5.2" stroke-linecap="butt"/>
<line x1="238.1" y1="1827.6" x2="269.1" y2="1827.6" stroke-width="5.2" stroke-linecap="butt"/>
<line x1="274.6" y1="1827.6" x2="305.6" y2="1827.6" stroke-width="5.2" stroke-linecap="butt"/>
<line x1="311.1" y1="1827.6" x2="342.1" y2="1827.6" stroke-width="5.2" stroke-linecap="butt"/>
<line x1="347.6" y1="1827.6" x2="378.6" y2="1827.6" stroke-width="5.2" stroke-linecap="butt"/>
<line x1="384.1" y1="1827.6" x2="415.1" y2="1827.6" stroke-width="5.2" stroke-linecap="butt"/>
<line x1="420.6" y1="1827.6" x2="451.6" y2="1827.6" stroke-width="5.2" stroke-linecap="butt"/>
<line x1="457.1" y1="1827.6" x2="488.1" y2="1827.6" stroke-width="5.2" stroke-linecap="butt"/>
<line x1="493.6" y1="1827.6" x2="524.6" y2="1827.6" stroke-width="5.2" stroke-linecap="butt"/>
<line x1="530.1" y1="1827.6" x2="561.1" y2="1827.6" stroke-width="5.2" stroke-linecap="butt"/>
<line x1="566.6" y1="1827.6" x2="597.6" y2="1827.6" stroke-width="5.2" stroke-linecap="butt"/>
<line x1="603.1" y1="1827.6" x2="634.1" y2="1827.6" stroke-width="5.2" stroke-linecap="butt"/>
<line x1="639.6" y1="1827.6" x2="670.6" y2="1827.6" stroke-width="5.2" stroke-linecap="butt"/>
<line x1="676.1" y1="1827.6" x2="707" y2="1827.6" stroke-width="5.2" stroke-linecap="butt"/>
<line x1="796.8" y1="1827.6" x2="815.4" y2="1827.6" stroke-width="5.2" stroke-linecap="butt"/>
<line x1="821.6" y1="1827.6" x2="852.1" y2="1827.6" stroke-width="5.2" stroke-linecap="butt"/>
<line x1="858.1" y1="1827.6" x2="888.6" y2="1827.6" stroke-width="5.2" stroke-linecap="butt"/>
<line x1="894.6" y1="1827.6" x2="925.1" y2="1827.6" stroke-width="5.2" stroke-linecap="butt"/>
<line x1="931.1" y1="1827.6" x2="961.6" y2="1827.6" stroke-width="5.2" stroke-linecap="butt"/>
<line x1="967.6" y1="1827.6" x2="998.1" y2="1827.6" stroke-width="5.2" stroke-linecap="butt"/>
<line x1="1004.1" y1="1827.6" x2="1034.6" y2="1827.6" stroke-width="5.2" stroke-linecap="butt"/>
<line x1="1040.6" y1="1827.6" x2="1071.1" y2="1827.6" stroke-width="5.2" stroke-linecap="butt"/>
<line x1="1077.1" y1="1827.6" x2="1107.6" y2="1827.6" stroke-width="5.2" stroke-linecap="butt"/>
<line x1="1113.6" y1="1827.6" x2="1144.1" y2="1827.6" stroke-width="5.2" stroke-linecap="butt"/>
<line x1="1150.1" y1="1827.6" x2="1180.6" y2="1827.6" stroke-width="5.2" stroke-linecap="butt"/>
<line x1="1186.6" y1="1827.6" x2="1217.1" y2="1827.6" stroke-width="5.2" stroke-linecap="butt"/>
<line x1="1223.1" y1="1827.6" x2="1253.6" y2="1827.6" stroke-width="5.2" stroke-linecap="butt"/>
<line x1="1259.6" y1="1827.6" x2="1290.1" y2="1827.6" stroke-width="5.2" stroke-linecap="butt"/>
<line x1="1296.1" y1="1827.6" x2="1306" y2="1827.6" stroke-width="5.2" stroke-linecap="butt"/>
<path d="M211.58 1835.77L199 1827.6L211.58 1819.43" stroke-width="4.3" fill="none" stroke-linecap="round" stroke-linejoin="round"/>
<path d="M1295.34 1819.5L1307.5 1827.4L1295.34 1835.3" stroke-width="4.3" fill="none" stroke-linecap="round" stroke-linejoin="round"/>
</g>
<g stroke="#000" fill="none" stroke-linejoin="round">
<rect x="1607.2" y="1402.8" width="202.8" height="203" stroke-width="2.2" fill="none"/>
<path d="M1607.2 1415.5L1810.3 1409.5C1815.3 1409.5 1815.3 1417 1810.3 1417L1607.2 1423C1602.2 1423 1602.2 1430.5 1607.2 1430.5L1810.3 1424.5C1815.3 1424.5 1815.3 1432 1810.3 1432L1607.2 1438C1602.2 1438 1602.2 1445.5 1607.2 1445.5L1810.3 1439.5C1815.3 1439.5 1815.3 1447 1810.3 1447L1607.2 1453C1602.2 1453 1602.2 1460.5 1607.2 1460.5L1810.3 1454.5C1815.3 1454.5 1815.3 1462 1810.3 1462L1607.2 1468C1602.2 1468 1602.2 1475.5 1607.2 1475.5L1810.3 1469.5C1815.3 1469.5 1815.3 1477 1810.3 1477L1607.2 1483C1602.2 1483 1602.2 1490.5 1607.2 1490.5L1810.3 1484.5C1815.3 1484.5 1815.3 1492 1810.3 1492L1607.2 1498C1602.2 1498 1602.2 1505.5 1607.2 1505.5L1810.3 1499.5C1815.3 1499.5 1815.3 1507 1810.3 1507L1607.2 1513C1602.2 1513 1602.2 1520.5 1607.2 1520.5L1810.3 1514.5C1815.3 1514.5 1815.3 1522 1810.3 1522L1607.2 1528C1602.2 1528 1602.2 1535.5 1607.2 1535.5L1810.3 1529.5C1815.3 1529.5 1815.3 1537 1810.3 1537L1607.2 1543C1602.2 1543 1602.2 1550.5 1607.2 1550.5L1810.3 1544.5C1815.3 1544.5 1815.3 1552 1810.3 1552L1607.2 1558C1602.2 1558 1602.2 1565.5 1607.2 1565.5L1810.3 1559.5C1815.3 1559.5 1815.3 1567 1810.3 1567L1607.2 1573C1602.2 1573 1602.2 1580.5 1607.2 1580.5L1810.3 1574.5C1815.3 1574.5 1815.3 1582 1810.3 1582L1607.2 1588C1602.2 1588 1602.2 1595.5 1607.2 1595.5L1810.3 1589.5C1815.3 1589.5 1815.3 1597 1810.3 1597L1607.2 1603" stroke-width="2.2" fill="none" stroke="#000" stroke-linejoin="round"/>
<rect x="1607.2" y="1727.8" width="204" height="100.5" stroke-width="2.2" fill="none"/>
<path d="M1811 1728.1L1607.2 1734.1C1602.2 1734.1 1602.2 1741.84 1607.2 1741.84L1811 1735.84C1816 1735.84 1816 1743.58 1811 1743.58L1607.2 1749.58C1602.2 1749.58 1602.2 1757.32 1607.2 1757.32L1811 1751.32C1816 1751.32 1816 1759.06 1811 1759.06L1607.2 1765.06C1602.2 1765.06 1602.2 1772.8 1607.2 1772.8L1811 1766.8C1816 1766.8 1816 1774.54 1811 1774.54L1607.2 1780.54C1602.2 1780.54 1602.2 1788.28 1607.2 1788.28L1811 1782.28C1816 1782.28 1816 1790.02 1811 1790.02L1607.2 1796.02C1602.2 1796.02 1602.2 1803.76 1607.2 1803.76L1811 1797.76C1816 1797.76 1816 1805.5 1811 1805.5L1607.2 1811.5C1602.2 1811.5 1602.2 1819.24 1607.2 1819.24L1811 1813.24C1816 1813.24 1816 1820.98 1811 1820.98L1607.2 1826.98" stroke-width="2.2" fill="none" stroke="#000" stroke-linejoin="round"/>
</g>
<g stroke="#000" fill="#fff" stroke-linejoin="round">
<path d="M1542 1304 C1590 1270 1650 1251.5 1707.3 1251.5 C1770 1251.5 1830 1270 1876.4 1304 Z" stroke-width="2.2" fill="#fff" />
<path d="M1542 1303.6 L1875.5 1303.6 L1875.5 1309 C1875.5 1311.5 1874 1313.3 1871 1313.3 L1546.5 1313.3 C1543.5 1313.3 1542 1311.5 1542 1309 Z" stroke-width="2.2" fill="#fff" />
<rect x="1618.6" y="1313.3" width="181.2" height="41.3" stroke-width="2.2" fill="#fff"/>
<path d="M1612 1331.6 L1806 1331.6 L1810.8 1336.4 L1806 1341.2 L1612 1341.2 L1607.6 1336.4 Z" stroke-width="2" fill="#fff" />
<path d="M1551 1363 C1580 1368 1600 1383 1605.4 1403.3 L1813 1403.3 C1819 1383 1838 1368 1867.5 1363 Z" stroke-width="2.2" fill="#fff" />
<rect x="1550.6" y="1354.6" width="317.2" height="8.5" rx="1.5" stroke-width="2.2" fill="#fff"/>
<path d="M1547.5 1623.1 L1547.5 1610.5 C1547.5 1608 1549 1607 1551.5 1607 L1867.5 1607 C1870 1607 1871.5 1608 1871.5 1610.5 L1871.5 1623.1 Z" stroke-width="2.2" fill="#fff" />
<rect x="1590.2" y="1623.1" width="237.3" height="14.9" stroke-width="2" fill="#fff"/>
<path d="M1546.3 1638 L1872.3 1638 C1871 1650 1862 1658.8 1852 1658.8 L1566 1658.8 C1556 1658.8 1547.5 1650 1546.3 1638 Z" stroke-width="2.2" fill="#fff" />
<rect x="1590.2" y="1658.8" width="237.3" height="6.5" stroke-width="2" fill="#fff"/>
<rect x="1558" y="1665.3" width="302.7" height="17.8" rx="3" stroke-width="2.2" fill="#fff"/>
<path d="M1574.7 1683.1 L1843.8 1683.1 L1843.8 1716 C1840 1721 1830 1724 1824 1724.5 L1790 1721 C1770 1720 1740 1724.5 1710 1725 C1680 1724.5 1650 1720 1630 1721 L1595 1724.5 C1585 1724 1577 1720 1574.7 1716 Z" stroke-width="2.2" fill="#fff" />
</g>
<g stroke="#000" fill="none">
<line x1="1630.3" y1="1683.1" x2="1630.3" y2="1721" stroke-width="2" stroke-linecap="butt"/>
<line x1="1649.7" y1="1683.1" x2="1649.7" y2="1721" stroke-width="2" stroke-linecap="butt"/>
<line x1="1768.8" y1="1683.1" x2="1768.8" y2="1721" stroke-width="2" stroke-linecap="butt"/>
<line x1="1788.2" y1="1683.1" x2="1788.2" y2="1721" stroke-width="2" stroke-linecap="butt"/>
<line x1="1542" y1="1184.9" x2="1542" y2="1306" stroke-width="5.3" stroke-linecap="butt"/>
<line x1="1877.1" y1="1184.9" x2="1877.1" y2="1306" stroke-width="5.2" stroke-linecap="butt"/>
<line x1="1543" y1="1184.9" x2="1579.4" y2="1184.9" stroke-width="5" stroke-linecap="butt"/>
<line x1="1585.9" y1="1184.9" x2="1620.4" y2="1184.9" stroke-width="5" stroke-linecap="butt"/>
<line x1="1626.9" y1="1184.9" x2="1656.7" y2="1184.9" stroke-width="5" stroke-linecap="butt"/>
<line x1="1762" y1="1184.9" x2="1777.8" y2="1184.9" stroke-width="5" stroke-linecap="butt"/>
<line x1="1790.9" y1="1184.9" x2="1824.4" y2="1184.9" stroke-width="5" stroke-linecap="butt"/>
<line x1="1830.9" y1="1184.9" x2="1876" y2="1184.9" stroke-width="5" stroke-linecap="butt"/>
<path d="M1557.24 1194.54L1542.4 1184.9L1557.24 1175.26" stroke-width="4.7" fill="none" stroke-linecap="round" stroke-linejoin="round"/>
<path d="M1861.56 1175.26L1876.4 1184.9L1861.56 1194.54" stroke-width="4.7" fill="none" stroke-linecap="round" stroke-linejoin="round"/>
<line x1="1461.7" y1="1248.5" x2="1706.1" y2="1248.5" stroke-width="5.2" stroke-linecap="butt"/>
<line x1="1461.3" y1="1261" x2="1461.3" y2="1295.8" stroke-width="5.3" stroke-linecap="butt"/>
<line x1="1461.3" y1="1301.9" x2="1461.3" y2="1336.7" stroke-width="5.3" stroke-linecap="butt"/>
<line x1="1461.3" y1="1342.8" x2="1461.3" y2="1377.6" stroke-width="5.3" stroke-linecap="butt"/>
<line x1="1461.3" y1="1383.7" x2="1461.3" y2="1418.5" stroke-width="5.3" stroke-linecap="butt"/>
<line x1="1461.3" y1="1424.6" x2="1461.3" y2="1459.4" stroke-width="5.3" stroke-linecap="butt"/>
<line x1="1461.3" y1="1465.5" x2="1461.3" y2="1499.6" stroke-width="5.3" stroke-linecap="butt"/>
<line x1="1461.3" y1="1579.5" x2="1461.3" y2="1580.5" stroke-width="5.3" stroke-linecap="butt"/>
<line x1="1461.3" y1="1587.6" x2="1461.3" y2="1621.8" stroke-width="5.3" stroke-linecap="butt"/>
<line x1="1461.3" y1="1628.6" x2="1461.3" y2="1662.8" stroke-width="5.3" stroke-linecap="butt"/>
<line x1="1461.3" y1="1669.6" x2="1461.3" y2="1703.8" stroke-width="5.3" stroke-linecap="butt"/>
<line x1="1461.3" y1="1710.6" x2="1461.3" y2="1744.8" stroke-width="5.3" stroke-linecap="butt"/>
<line x1="1461.3" y1="1751.6" x2="1461.3" y2="1785.8" stroke-width="5.3" stroke-linecap="butt"/>
<line x1="1461.3" y1="1792.3" x2="1461.3" y2="1827" stroke-width="5.3" stroke-linecap="butt"/>
<path d="M1452.52 1264.57L1461.4 1250.9L1470.28 1264.57" stroke-width="4.4" fill="none" stroke-linecap="round" stroke-linejoin="round"/>
<path d="M1469.93 1814.65L1461 1828.4L1452.07 1814.65" stroke-width="4.4" fill="none" stroke-linecap="round" stroke-linejoin="round"/>
<line x1="1461.5" y1="1829.8" x2="1606" y2="1829.8" stroke-width="5.4" stroke-linecap="butt"/>
<line x1="1607" y1="1828.7" x2="1607" y2="1884.6" stroke-width="4.6" stroke-linecap="butt"/>
<line x1="1811.6" y1="1830.6" x2="1812" y2="1884.6" stroke-width="4.8" stroke-linecap="butt"/>
<line x1="1608" y1="1884.3" x2="1644" y2="1884.3" stroke-width="4.8" stroke-linecap="butt"/>
<line x1="1650.9" y1="1884.3" x2="1657.1" y2="1884.3" stroke-width="4.8" stroke-linecap="butt"/>
<line x1="1761.4" y1="1884.3" x2="1767" y2="1884.3" stroke-width="4.8" stroke-linecap="butt"/>
<line x1="1773.9" y1="1884.3" x2="1811" y2="1884.3" stroke-width="4.8" stroke-linecap="butt"/>
<path d="M1621.73 1893.67L1607.3 1884.3L1621.73 1874.93" stroke-width="4.7" fill="none" stroke-linecap="round" stroke-linejoin="round"/>
<path d="M1797.37 1874.93L1811.8 1884.3L1797.37 1893.67" stroke-width="4.7" fill="none" stroke-linecap="round" stroke-linejoin="round"/>
</g>
<g fill="#000" font-family="Liberation Sans, sans-serif">
<text x="81.77" y="482.56" font-size="43.929" textLength="77.63" lengthAdjust="spacingAndGlyphs">6.5&quot;</text>
<text x="486.69" y="454.06" font-size="43.086" textLength="40.76" lengthAdjust="spacingAndGlyphs">5&quot;</text>
<text x="111.78" y="964.06" font-size="43.929" textLength="40.69" lengthAdjust="spacingAndGlyphs">3&quot;</text>
<text x="403.68" y="899.97" font-size="43.800" textLength="77.21" lengthAdjust="spacingAndGlyphs">1.2&quot;</text>
<text x="1005.41" y="433.99" font-size="40.164" textLength="71.85" lengthAdjust="spacingAndGlyphs">1.2&quot;</text>
<text x="1365.82" y="434.60" font-size="40.339" textLength="73.49" lengthAdjust="spacingAndGlyphs">0.9&quot;</text>
<text x="1691.44" y="433.99" font-size="40.164" textLength="71.32" lengthAdjust="spacingAndGlyphs">1.2&quot;</text>
<text x="1204.05" y="657.50" font-size="40.747" textLength="38.29" lengthAdjust="spacingAndGlyphs">4&quot;</text>
<text x="1366.22" y="750.08" font-size="41.747" textLength="38.12" lengthAdjust="spacingAndGlyphs">8&quot;</text>
<text x="1194.27" y="791.60" font-size="26.362" textLength="385.92" lengthAdjust="spacingAndGlyphs">Recommended Spread distance</text>
<text x="71.74" y="1490.49" font-size="51.627" textLength="48.08" lengthAdjust="spacingAndGlyphs">8&quot;</text>
<text x="713.58" y="1845.99" font-size="50.899" textLength="76.64" lengthAdjust="spacingAndGlyphs">16&quot;</text>
<text x="1661.69" y="1201.49" font-size="48.859" textLength="93.30" lengthAdjust="spacingAndGlyphs">2 ½&quot;</text>
<text x="1661.55" y="1901.03" font-size="45.202" textLength="92.93" lengthAdjust="spacingAndGlyphs">1 ½&quot;</text>
<text x="1404.68" y="1557.02" font-size="48.101" textLength="26.43" lengthAdjust="spacingAndGlyphs">3</text>
<text x="1442.27" y="1538.50" font-size="24.049" textLength="12.97" lengthAdjust="spacingAndGlyphs">7</text>
<text x="1457.12" y="1556.99" font-size="47.291" textLength="8.36" lengthAdjust="spacingAndGlyphs">⁄</text>
<text x="1464.30" y="1559.74" font-size="24.775" textLength="32.36" lengthAdjust="spacingAndGlyphs">10</text>
<text x="1497.16" y="1563.21" font-size="58.574" textLength="20.53" lengthAdjust="spacingAndGlyphs">”</text>
</g>
</svg></body></html>
